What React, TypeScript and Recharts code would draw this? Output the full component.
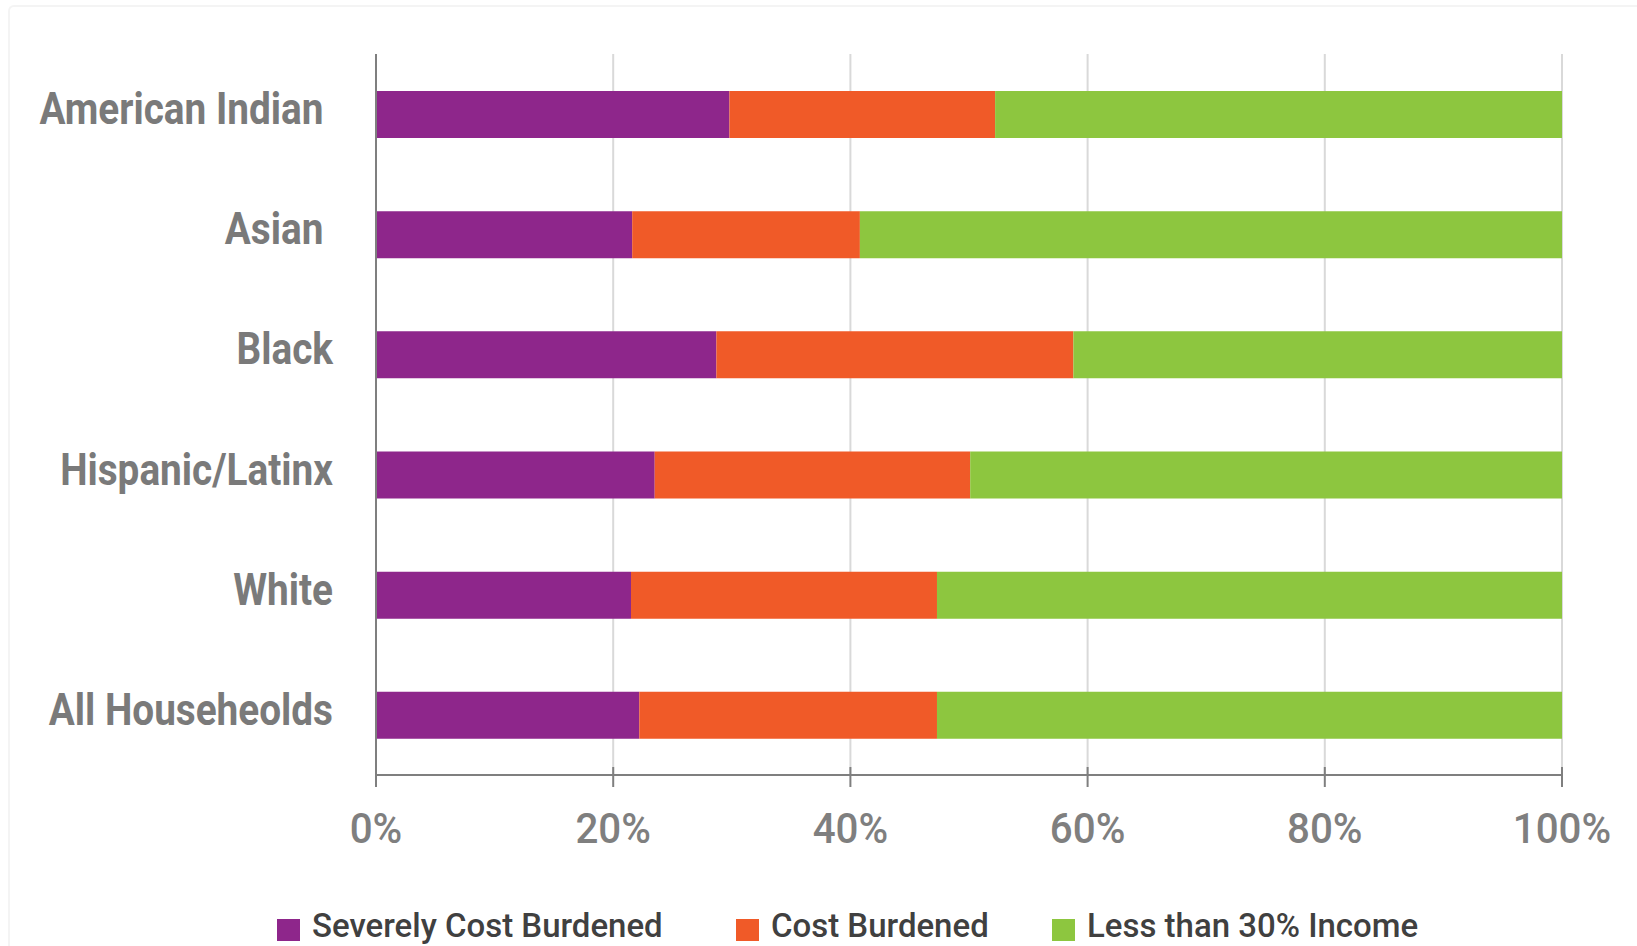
import React from 'react';
import { BarChart, Bar, XAxis, YAxis, CartesianGrid, Legend } from 'recharts';

const categories = ['American Indian ', 'Asian ', 'Black', 'Hispanic/Latinx', 'White', 'All Househeolds'];
const severelyCostBurdened = [29.8, 21.6, 28.7, 23.5, 21.5, 22.2];
const costBurdened = [22.4, 19.2, 30.1, 26.6, 25.8, 25.1];
const lessThan30Income = [47.8, 59.2, 41.2, 49.9, 52.7, 52.7];
const xTicks = [0, 20, 40, 60, 80, 100];
const seriesKeys = ['severe', 'cost', 'less'];
const seriesNames = ['Severely Cost Burdened', 'Cost Burdened', 'Less than 30% Income'];
const seriesColors = ['#8E268B', '#F05A28', '#8DC63F'];

const data = categories.map((name, i) => ({
  name,
  severe: severelyCostBurdened[i],
  cost: costBurdened[i],
  less: lessThan30Income[i],
}));

const FONT = "Roboto, 'Liberation Sans', Arial, sans-serif";

const XTick = (props: any) => {
  const { x, y, payload } = props;
  return (
    <g>
      <line x1={x} x2={x} y1={y - 8} y2={y + 12} stroke="#7f7f7f" strokeWidth={2} />
      <g transform={`translate(${x},${y + 68}) scale(0.96,1)`}>
        <text x={0} y={0} textAnchor="middle" fill="#7f7f7f" fontFamily={FONT} fontWeight={500} fontSize={42}>
          {`${payload.value}%`}
        </text>
      </g>
    </g>
  );
};

const YTick = (props: any) => {
  const { x, y, payload } = props;
  return (
    <g transform={`translate(${x - 43},${y + 10}) scale(0.88,1)`}>
      <text
        x={0}
        y={0}
        textAnchor="end"
        fill="#7a7a7a"
        fontFamily={FONT}
        fontWeight={700}
        fontSize={44}
        style={{ whiteSpace: 'pre' }}
      >
        {payload.value}
      </text>
    </g>
  );
};

const legendLefts = [277, 736, 1052];

const renderLegend = () => (
  <svg width={1637} height={40} style={{ display: 'block' }}>
    {seriesNames.map((n, i) => (
      <g key={n}>
        <rect x={legendLefts[i]} y={13} width={23} height={22} fill={seriesColors[i]} />
        <g transform={`translate(${legendLefts[i] + 35},31) scale(0.97,1)`}>
          <text x={0} y={0} fill="#404040" fontFamily={FONT} fontWeight={500} fontSize={34}>
            {n}
          </text>
        </g>
      </g>
    ))}
  </svg>
);

export default function App() {
  return (
    <div style={{ position: 'absolute', left: 0, top: 0, width: 1637, height: 946, background: '#fff', overflow: 'hidden' }}>
      <div
        style={{
          position: 'absolute',
          left: 8,
          top: 5,
          width: 1640,
          height: 950,
          borderTop: '2px solid #f4f4f4',
          borderLeft: '2px solid #f4f4f4',
          borderTopLeftRadius: 6,
        }}
      />
      <div style={{ position: 'absolute', left: 0, top: 0 }}>
        <BarChart
          width={1637}
          height={946}
          data={data}
          layout="vertical"
          margin={{ top: 54, right: 75, bottom: 0, left: 0 }}
          barSize={47}
        >
          <CartesianGrid horizontal={false} stroke="#d9d9d9" strokeWidth={2} />
          <XAxis
            type="number"
            domain={[0, 100]}
            ticks={xTicks}
            interval={0}
            tick={<XTick />}
            tickLine={false}
            tickSize={0}
            tickMargin={0}
            height={131}
            axisLine={{ stroke: '#7f7f7f', strokeWidth: 2 }}
          />
          <YAxis
            type="category"
            dataKey="name"
            width={376}
            interval={0}
            tick={<YTick />}
            tickLine={false}
            tickSize={0}
            tickMargin={0}
            axisLine={{ stroke: '#7f7f7f', strokeWidth: 2 }}
          />
          <Legend verticalAlign="bottom" height={40} content={renderLegend} wrapperStyle={{ left: 0, width: 1637, bottom: 0 }} />
          {seriesKeys.map((k, i) => (
            <Bar key={k} dataKey={k} name={seriesNames[i]} stackId="a" fill={seriesColors[i]} isAnimationActive={false} />
          ))}
        </BarChart>
      </div>
    </div>
  );
}
